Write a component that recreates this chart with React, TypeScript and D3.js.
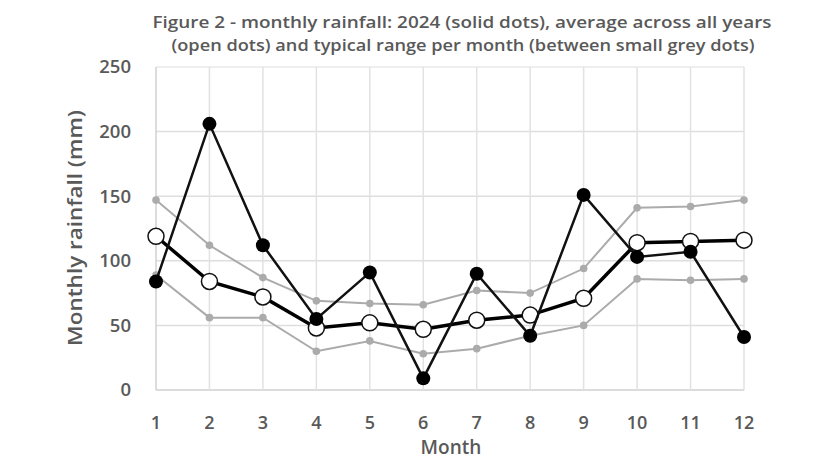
import React from 'react';
import * as d3 from 'd3';

// month numbers
const months = [1, 2, 3, 4, 5, 6, 7, 8, 9, 10, 11, 12];
// 2024 rainfall (solid dots)
const rain2024 = [84, 206, 112, 55, 91, 9, 90, 42, 151, 103, 107, 41];
// average across all years (open dots)
const rainAvg = [119, 84, 72, 48, 52, 47, 54, 58, 71, 114, 115, 116];
// typical range per month (small grey dots)
const rangeHigh = [147, 112, 87, 69, 67, 66, 77, 75, 94, 141, 142, 147];
const rangeLow = [89, 56, 56, 30, 38, 28, 32, 42, 50, 86, 85, 86];
const yTicks = [0, 50, 100, 150, 200, 250];

const W = 825;
const H = 459;
const textCol = '#595959';
const font = "'Open Sans', 'DejaVu Sans', sans-serif";

const App: React.FC = () => {
  const x = d3.scaleLinear().domain([1, 12]).range([156, 744]);
  const y = d3.scaleLinear().domain([0, 250]).range([390, 67]);

  const line = d3
    .line<number>()
    .x((_, i) => x(months[i]))
    .y((d) => y(d));

  return (
    <svg width={W} height={H} style={{ position: 'absolute', left: 0, top: 0, background: '#fff' }}>
      <rect width={W} height={H} fill="#fff" />
      {/* title */}
      <text x={462} y={28} textAnchor="middle" fontFamily={font} fontWeight={600} fontSize={15.5}
        fill={textCol} textLength={619} lengthAdjust="spacingAndGlyphs">
        Figure 2 - monthly rainfall: 2024 (solid dots), average across all years
      </text>
      <text x={463} y={51} textAnchor="middle" fontFamily={font} fontWeight={600} fontSize={15.5}
        fill={textCol} textLength={583} lengthAdjust="spacingAndGlyphs">
        (open dots) and typical range per month (between small grey dots)
      </text>

      {/* grid */}
      {yTicks.map((t) => (
        <line key={'h' + t} x1={156} x2={744} y1={y(t)} y2={y(t)}
          stroke={t === 0 ? '#d0d0d0' : '#dedede'} strokeWidth={t === 250 ? 1 : 1.5} />
      ))}
      {months.map((m) => (
        <line key={'v' + m} x1={x(m)} x2={x(m)} y1={y(250)} y2={y(0)}
          stroke={m === 1 ? '#d0d0d0' : '#e2e2e2'} strokeWidth={1.5} />
      ))}

      {/* y tick labels */}
      {yTicks.map((t) => (
        <text key={'yt' + t} x={131} y={y(t)} dy="0.35em" textAnchor="end" fontFamily={font}
          fontWeight={600} fontSize={18.5} fill={textCol}>
          {t}
        </text>
      ))}
      {/* x tick labels */}
      {months.map((m) => (
        <text key={'xt' + m} x={x(m)} y={429} textAnchor="middle" fontFamily={font}
          fontWeight={600} fontSize={18} fill={textCol}>
          {m}
        </text>
      ))}

      {/* axis titles */}
      <text transform="translate(82,228) rotate(-90)" textAnchor="middle" fontFamily={font}
        fontWeight={600} fontSize={19} fill={textCol} textLength={236} lengthAdjust="spacingAndGlyphs">
        Monthly rainfall (mm)
      </text>
      <text x={451} y={454} textAnchor="middle" fontFamily={font} fontWeight={600} fontSize={19}
        fill={textCol}>
        Month
      </text>

      {/* typical range */}
      {[rangeHigh, rangeLow].map((s, k) => (
        <g key={'r' + k}>
          <path d={line(s) || ''} fill="none" stroke="#ababab" strokeWidth={2} />
          {s.map((v, i) => (
            <circle key={i} cx={x(months[i])} cy={y(v)} r={3.8} fill="#ababab" />
          ))}
        </g>
      ))}

      {/* average */}
      <path d={line(rainAvg) || ''} fill="none" stroke="#000" strokeWidth={3.5} />
      {rainAvg.map((v, i) => (
        <circle key={'a' + i} cx={x(months[i])} cy={y(v)} r={8} fill="#fff" stroke="#111" strokeWidth={1.5} />
      ))}

      {/* 2024 */}
      <path d={line(rain2024) || ''} fill="none" stroke="#111" strokeWidth={2.5} />
      {rain2024.map((v, i) => (
        <circle key={'s' + i} cx={x(months[i])} cy={y(v)} r={7} fill="#000" />
      ))}
    </svg>
  );
};

export default App;
